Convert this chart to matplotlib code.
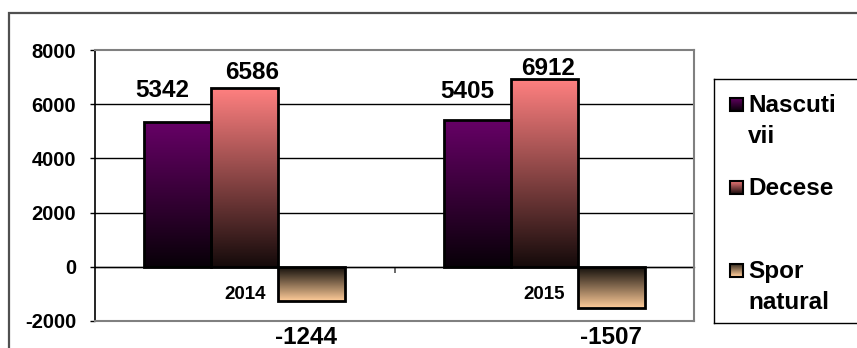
import numpy as np
import matplotlib
matplotlib.use("Agg")
import matplotlib.pyplot as plt
from matplotlib.colors import to_rgb
from matplotlib.patches import Rectangle

plt.rcParams['font.family'] = ['Liberation Sans', 'DejaVu Sans']
plt.rcParams['font.weight'] = 'bold'
plt.rcParams['axes.unicode_minus'] = False

# date: nascuti vii, decese, spor natural pe ani
years = ['2014', '2015']
series = ['Nascuti\nvii', 'Decese', 'Spor\nnatural']
nascuti = [5342, 5405]
decese = [6586, 6912]
spor = [-1244, -1507]
colors = ['#660066', '#FF8080', '#FFCC99']
y_ticks = [-2000, 0, 2000, 4000, 6000, 8000]

# pozitia etichetelor de valoare (pixeli fata de capatul barei)
label_offsets = [[(-15, 25), (7, 9), (-6, -25)],
                 [(-10, 22), (4, 4), (0, -18)]]

W, H = 857, 348
fig = plt.figure(figsize=(W / 100, H / 100), dpi=100)
fig.patch.set_facecolor('white')

# chenarul exterior
fig.add_artist(Rectangle((9 / W, -0.1), 1.1, (H - 13) / H + 0.1,
                         transform=fig.transFigure, fill=False,
                         ec='#505050', lw=1.6))

ax = fig.add_axes([95 / W, (H - 321) / H, 599 / W, 271 / H])


def gradient(axis, x0, x1, y_base, y_end, color, dark=0.08):
    # culoarea plina la capatul barei, aproape negru la baza
    t = np.linspace(dark, 1, 256)[:, None]
    rgb = np.array(to_rgb(color))
    img = (t[:, :, None] * rgb[None, None, :])
    axis.imshow(img, extent=[x0, x1, y_base, y_end], origin='lower',
                aspect='auto', interpolation='bilinear', zorder=2)


x = np.arange(len(years))
width = 0.224
values = [nascuti, decese, spor]
ylim = (y_ticks[0], y_ticks[-1])

for k, vals in enumerate(values):
    bars = ax.bar(x + (k - 1) * width, vals, width, facecolor='none',
                  edgecolor='black', linewidth=2, zorder=3)
    for i, p in enumerate(bars):
        x0 = p.get_x()
        gradient(ax, x0, x0 + p.get_width(), p.get_y(),
                 p.get_y() + p.get_height(), colors[k])
        v = vals[i]
        dx, dy = label_offsets[i][k]
        ax.annotate(str(v), (x0 + p.get_width() / 2, v), xytext=(dx, dy),
                    textcoords='offset pixels', ha='center',
                    va='baseline' if v >= 0 else 'top', fontsize=17.5,
                    annotation_clip=False, zorder=5)

ax.set_xlim(-0.5, len(years) - 0.5)
ax.set_ylim(*ylim)
ax.set_xticks([])
ax.set_yticks(y_ticks)
ax.tick_params(axis='y', direction='out', length=3.6, width=1,
               color='black', pad=10, labelsize=14.5)
ax.grid(axis='y', color='black', linewidth=1, zorder=1)
ax.set_axisbelow(True)
gl = ax.get_ygridlines()
gl[0].set_visible(False)
gl[-1].set_visible(False)
for side in ['top', 'right', 'bottom']:
    ax.spines[side].set_color('#808080')
    ax.spines[side].set_linewidth(1.5)
ax.spines['left'].set_color('black')
ax.spines['left'].set_linewidth(1.2)

# axa categoriilor la nivelul zero
sec = ax.secondary_xaxis((0 - ylim[0]) / (ylim[1] - ylim[0]))
sec.set_xticks(x, labels=years)
sec.set_xticks([0.5], minor=True)
sec.tick_params(which='major', length=0, pad=13.5, labelsize=13.5)
sec.tick_params(which='minor', length=4.5, width=1.2, color='#505050',
                direction='out')
sec.spines['bottom'].set_color('#404040')
sec.spines['bottom'].set_linewidth(1)

# legenda
lx0, ly0, lx1, ly1 = 714, 78.7, W + 8, 323.3
lax = fig.add_axes([lx0 / W, (H - ly1) / H, (lx1 - lx0) / W, (ly1 - ly0) / H])
lax.set_xticks([])
lax.set_yticks([])
for s in lax.spines.values():
    s.set_color('black')
    s.set_linewidth(1)

slot_y = [25.3, 108.3, 191.3]
for k, name in enumerate(series):
    yc = slot_y[k]
    if values[k][0] >= 0:
        yb, ye = yc + 6.5, yc - 6.5
    else:
        yb, ye = yc - 6.5, yc + 6.5
    gradient(lax, 16, 29, yb, ye, colors[k], dark=0.15)
    lax.add_patch(Rectangle((16, yc - 6.5), 13, 13, fill=False,
                            ec='black', lw=1.5, zorder=3))
    lax.text(34, yc - 9.7, name, va='top', ha='left', fontsize=17.5,
             linespacing=1.45)
lax.set_xlim(0, lx1 - lx0)
lax.set_ylim(ly1 - ly0, 0)

fig.savefig('out.png', dpi=100)
